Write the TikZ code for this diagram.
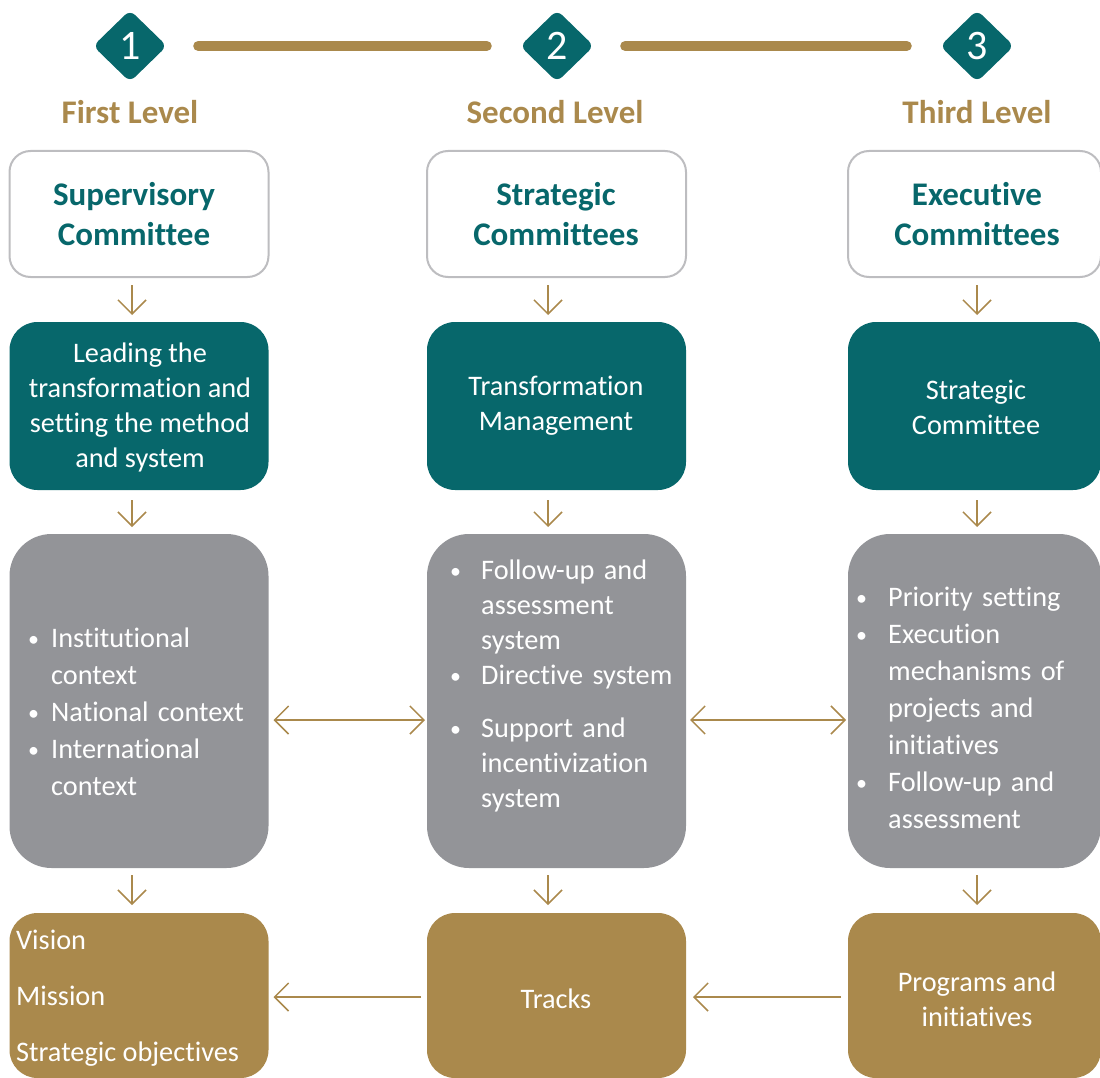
\documentclass[tikz,border=0pt]{standalone}
\usepackage{fontspec}
\setmainfont{Carlito}[Ligatures=NoCommon]
\usetikzlibrary{arrows.meta,shapes.geometric}
\definecolor{teal}{HTML}{07676B}
\definecolor{gold}{HTML}{AA894C}
\definecolor{boxgray}{HTML}{939498}
\definecolor{edgegray}{HTML}{BDBDC0}
\newcommand{\regfont}{\fontsize{28.3}{35}\selectfont}
\newcommand{\bldfont}{\fontsize{33}{40}\selectfont\bfseries}
\newcommand{\bitem}[2]{\hangindent=#1pt\hangafter=1\noindent\makebox[#1pt][l]{\hspace{2pt}\raisebox{1pt}{\fontsize{22}{22}\selectfont •}}#2\par}
\tikzset{
  colbox/.style={minimum width=259, inner sep=0, outer sep=0},
  whitebox/.style={colbox, draw=edgegray, line width=2, fill=white, rounded corners=21, minimum height=126},
  tealbox/.style={colbox, fill=teal, rounded corners=28, minimum height=168},
  graybox/.style={colbox, fill=boxgray, rounded corners=42, minimum height=334},
  goldbox/.style={colbox, fill=gold, rounded corners=28, minimum height=165},
  numdia/.style={diamond, fill=teal, text=white, minimum width=74, minimum height=72, inner sep=0, rounded corners=7, font=\fontsize{42}{42}\selectfont},
  levellabel/.style={text=gold, font=\bldfont},
  titletext/.style={text=teal, font=\bldfont, align=center},
  whitetext/.style={text=white, font=\regfont, align=center},
  bullettext/.style={text=white, font=\regfont, align=left, anchor=west, inner sep=0},
  levelbar/.style={draw=gold, line width=10, line cap=round},
  varrow/.style={draw=gold, line width=1.5, -{Straight Barb[length=14,width=28]}},
  harrow/.style={draw=gold, line width=1.5, {Straight Barb[length=14,width=28]}-{Straight Barb[length=14,width=28]}},
  larrow/.style={draw=gold, line width=1.5, -{Straight Barb[length=14,width=28]}},
}
\begin{document}
\begin{tikzpicture}[x=1pt,y=-1pt]
\useasboundingbox (0,0) rectangle (1100,1078);
% diamonds and bars
\node[numdia] (d1) at (130,46) {1};
\node[numdia] (d2) at (557,46) {2};
\node[numdia] (d3) at (977,46) {3};
\draw[levelbar, shorten <=31, shorten >=33] (d1) -- (d2);
\draw[levelbar, shorten <=31, shorten >=33] (d2) -- (d3);
\node[levellabel] (l1) at (130,112) {First Level};
\node[levellabel] (l2) at (555,112) {Second Level};
\node[levellabel] (l3) at (977,112) {Third Level};
% column 1
\node[whitebox] (w1) at (139,214) {};
\node[tealbox] (t1) at (139,406) {};
\node[graybox] (g1) at (139,701) {};
\node[goldbox] (o1) at (139,995.5) {};
% column 2
\node[whitebox] (w2) at (556.5,214) {};
\node[tealbox] (t2) at (556.5,406) {};
\node[graybox] (g2) at (556.5,701) {};
\node[goldbox] (o2) at (556.5,995.5) {};
% column 3
\node[whitebox, minimum width=253] (w3) at (974.5,214) {};
\node[tealbox, minimum width=253] (t3) at (974.5,406) {};
\node[graybox, minimum width=253] (g3) at (974.5,701) {};
\node[goldbox, minimum width=253] (o3) at (974.5,995.5) {};
% titles
\node[titletext] (wt1) at (134,214) {Supervisory\\Committee};
\node[titletext] (wt2) at (556,214) {Strategic\\Committees};
\node[titletext] (wt3) at (977,214) {Executive\\Committees};
% teal texts
\node[whitetext] (tt1) at (140,407) {Leading the\\transformation and\\setting the method\\and system};
\node[whitetext] (tt2) at (556,406) {Transformation\\Management};
\node[whitetext] (tt3) at (976,407.5) {Strategic\\Committee};
% gray texts
\node[bullettext, text width=260, font=\fontsize{28.3}{37}\selectfont] (gt1) at (26,711.5) {\hyphenpenalty=10000%
\bitem{25}{Institutional\newline context}\bitem{25}{National context}\bitem{25}{International\newline context}};
\node[bullettext, text width=260, font=\fontsize{28.3}{35}\selectfont] (gt2) at (448,685.5) {\hyphenpenalty=10000%
\bitem{33}{Follow-up and\newline assessment\newline system}\bitem{33}{Directive system}\vspace{18pt}\bitem{33}{Support and\newline incentivization\newline system}};
\node[bullettext, text width=260, font=\fontsize{28.3}{37}\selectfont] (gt3) at (854,708) {\hyphenpenalty=10000%
\bitem{34}{Priority setting}\bitem{34}{Execution\newline mechanisms of\newline projects and\newline initiatives}\bitem{34}{Follow-up and\newline assessment}};
% gold texts
\node[bullettext, font=\fontsize{28.3}{56}\selectfont] (ot1) at (16,998.5) {Vision\\Mission\\Strategic objectives};
\node[whitetext] (ot2) at (556,999) {Tracks};
\node[whitetext] (ot3) at (977,999) {Programs and\\initiatives};
% vertical arrows
\draw[varrow, shorten <=8, shorten >=7] ([xshift=-7]w1.south) -- ([xshift=-7]t1.north);
\draw[varrow, shorten <=8, shorten >=7] ([xshift=-8.5]w2.south) -- ([xshift=-8.5]t2.north);
\draw[varrow, shorten <=8, shorten >=7] ([xshift=2.5]w3.south) -- ([xshift=2.5]t3.north);
\draw[varrow, shorten <=10, shorten >=7] ([xshift=-7]t1.south) -- ([xshift=-7]g1.north);
\draw[varrow, shorten <=10, shorten >=7] ([xshift=-8.5]t2.south) -- ([xshift=-8.5]g2.north);
\draw[varrow, shorten <=10, shorten >=7] ([xshift=2.5]t3.south) -- ([xshift=2.5]g3.north);
\draw[varrow, shorten <=7, shorten >=8] ([xshift=-7]g1.south) -- ([xshift=-7]o1.north);
\draw[varrow, shorten <=7, shorten >=8] ([xshift=-8.5]g2.south) -- ([xshift=-8.5]o2.north);
\draw[varrow, shorten <=7, shorten >=8] ([xshift=2.5]g3.south) -- ([xshift=2.5]o3.north);
% horizontal arrows
\draw[harrow, shorten <=5, shorten >=2] ([yshift=-19pt]g1.east) -- ([yshift=-19pt]g2.west);
\draw[harrow, shorten <=4, shorten >=2] ([yshift=-19pt]g2.east) -- ([yshift=-19pt]g3.west);
\draw[larrow, shorten <=6, shorten >=5] ([yshift=-1.5pt]o2.west) -- ([yshift=-1.5pt]o1.east);
\draw[larrow, shorten <=7, shorten >=7] ([yshift=-1.5pt]o3.west) -- ([yshift=-1.5pt]o2.east);
\end{tikzpicture}
\end{document}
